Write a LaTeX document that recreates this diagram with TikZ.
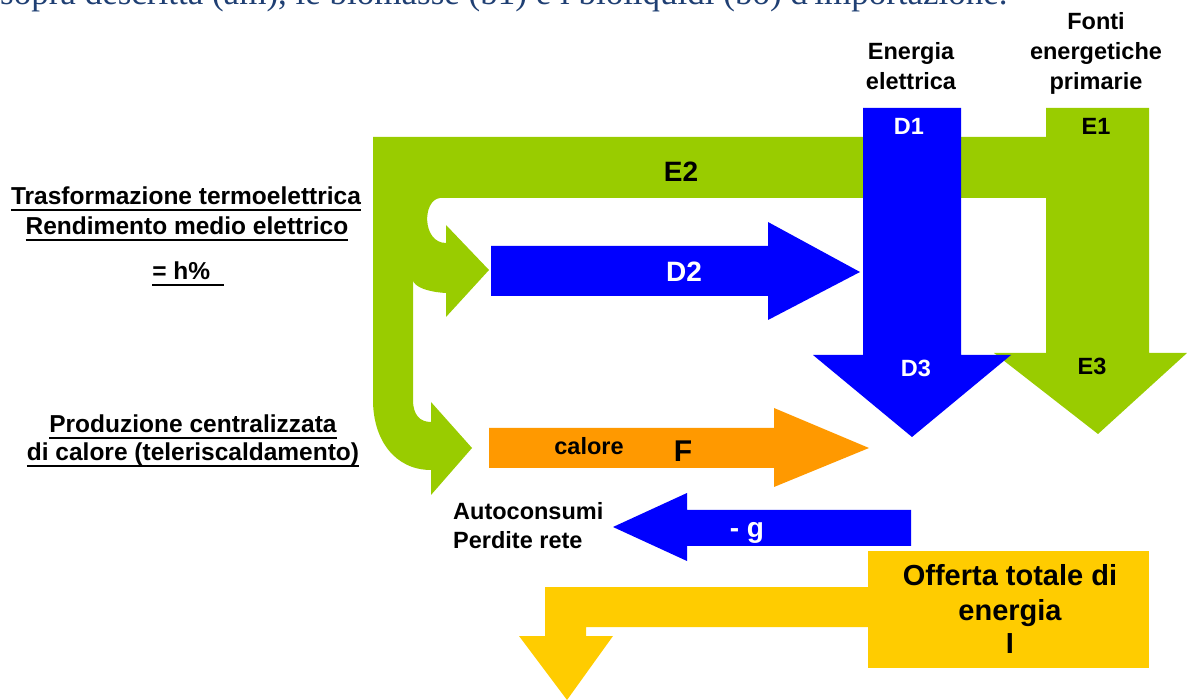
\documentclass[tikz,border=0pt]{standalone}
\usepackage{fontspec}
\setmainfont{Liberation Sans}
\newfontfamily\captionserif{Liberation Serif}
\usepackage{xcolor}
\usepackage{tikz}

\definecolor{flowgreen}{HTML}{99CC00}
\definecolor{flowblue}{HTML}{0000FF}
\definecolor{floworange}{HTML}{FF9900}
\definecolor{flowyellow}{HTML}{FFCC00}
\definecolor{captionblue}{HTML}{1F3F73}

\newsavebox\ulbox
\newcommand{\ulbar}[1]{\sbox\ulbox{#1}\rlap{\rule[-6.5pt]{\wd\ulbox}{2.6pt}}\usebox\ulbox}

\begin{document}
\begin{tikzpicture}[x=1pt, y=-1pt,
        lbl/.style={font=\bfseries\fontsize{23.5}{28}\selectfont, anchor=base, inner sep=0pt},
        note/.style={font=\bfseries\fontsize{24.5}{28}\selectfont, anchor=base, inner sep=0pt},
        big/.style={font=\bfseries\fontsize{28}{34}\selectfont, anchor=base, inner sep=0pt}]

        \useasboundingbox (0,0) rectangle (1187,700);

        % caption of the page, cut at the top
        \begin{scope}
          \clip (0,0) rectangle (1187,700);
          \node[anchor=base west, inner sep=0pt, text=captionblue, font=\captionserif\fontsize{35}{40}\selectfont] (caption) at (0,5) {sopra descritta (am), le biomasse (b1) e i bioliquidi (bo) d'importazione.};
        \end{scope}

        % Primary sources: E1 down, E2 across and the two branches
        \fill[flowgreen] (1046,108) -- (1149,108) -- (1149,353) -- (1187,353) -- (1098,434) -- (994,353) -- (1046,353)
          -- (1046,198) -- (440,198) .. controls (422,200) and (422,243) .. (446,243)
          -- (446,225) -- (489,270) -- (446,317) -- (446,293) .. controls (428,292) and (414,287) .. (413,280)
          -- (413,400) .. controls (413,415) and (420,422) .. (431,422)
          -- (431,402) -- (472,448) -- (431,495) -- (431,470) .. controls (395,470) and (373,440) .. (373,400)
          -- (373,137) -- (1046,137) -- cycle;

        % Electric energy D1 -> D3
        \fill[flowblue] (863,108) -- (961,108) -- (961,355) -- (1011,355) -- (912,437) -- (813,355) -- (863,355) -- cycle;

        % D2
        \fill[flowblue] (491,246) -- (768,246) -- (768,222) -- (860,272) -- (768,320) -- (768,296) -- (491,296) -- cycle;

        % Heat F
        \fill[floworange] (489,428) -- (774,428) -- (774,408) -- (869,448) -- (774,487) -- (774,468) -- (489,468) -- cycle;

        % Losses -g
        \fill[flowblue] (911,510) -- (687,510) -- (687,493) -- (613,527) -- (687,561) -- (687,546) -- (911,546) -- cycle;

        % Total supply I
        \fill[flowyellow] (868,551) rectangle (1149,668);
        \fill[flowyellow] (868,587) -- (545,587) -- (545,636) -- (519,636) -- (567,700) -- (613,636) -- (586,636)
          -- (586,627) -- (868,627) -- cycle;

        % column heads
        \node[lbl] (energia) at (911,60) {Energia};
        \node[lbl] (elettrica) at (911,90) {elettrica};
        \node[lbl] (fonti) at (1096,30) {Fonti};
        \node[lbl] (energetiche) at (1096,60) {energetiche};
        \node[lbl] (primarie) at (1096,90) {primarie};

        % flow labels
        \node[lbl, text=white] (d1) at (909,135) {D1};
        \node[lbl] (e1) at (1096,135) {E1};
        \node[big] (e2) at (681,182) {E2};
        \node[big, text=white] (d2) at (684,282) {D2};
        \node[lbl, text=white] (d3) at (916,377) {D3};
        \node[lbl] (e3) at (1092,375) {E3};
        \node[lbl] (calore) at (589,455) {calore};
        \node[big, font=\bfseries\fontsize{30}{34}\selectfont] (f) at (683,462) {F};
        \node[big, text=white] (g) at (747,538) {- g};

        % left notes
        \node[note] (trasf) at (186,205) {\ulbar{Trasformazione termoelettrica}};
        \node[note] (rend) at (187,235) {\ulbar{Rendimento medio elettrico}};
        \node[note] (rendh) at (188,280) {\ulbar{= h\%\ \ }};
        \node[note] (prod) at (193,433) {\ulbar{Produzione centralizzata}};
        \node[note] (telerisc) at (193,461) {\ulbar{di calore (teleriscaldamento)}};

        \node[lbl, anchor=base west] (autoc) at (453,520) {Autoconsumi};
        \node[lbl, anchor=base west] (perdite) at (453,548) {Perdite rete};

        % total supply box
        \node[big, font=\bfseries\fontsize{29}{34}\selectfont] (offerta) at (1010,585) {Offerta totale di};
        \node[big, font=\bfseries\fontsize{29}{34}\selectfont] (offenergia) at (1010,620) {energia};
        \node[big, font=\bfseries\fontsize{29}{34}\selectfont] (offi) at (1010,653) {I};
      \end{tikzpicture}
\end{document}
